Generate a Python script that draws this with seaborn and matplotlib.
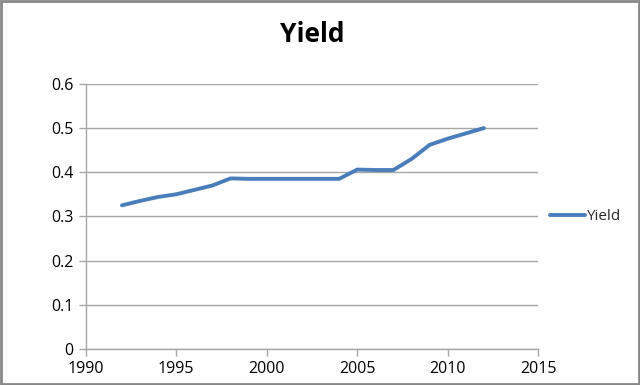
import matplotlib
matplotlib.use("Agg")
import matplotlib.pyplot as plt
import seaborn as sns
import pandas as pd
from matplotlib.patches import Rectangle

# Data
years = [1992, 1993, 1994, 1995, 1996, 1997, 1998, 1999, 2000, 2001,
         2002, 2003, 2004, 2005, 2006, 2007, 2008, 2009, 2010, 2011, 2012]
yield_vals = [0.325, 0.335, 0.344, 0.350, 0.360, 0.370, 0.386, 0.385, 0.385, 0.385,
              0.385, 0.385, 0.385, 0.406, 0.405, 0.405, 0.430, 0.462, 0.476, 0.488, 0.500]
x_ticks = [1990, 1995, 2000, 2005, 2010, 2015]
y_ticks = [0, 0.1, 0.2, 0.3, 0.4, 0.5, 0.6]

df = pd.DataFrame({"Year": years, "Yield": yield_vals})

sns.set_style("white")
plt.rcParams['font.family'] = ['Open Sans', 'DejaVu Sans']

fig = plt.figure(figsize=(6.4, 3.85), dpi=100)
ax = fig.add_axes([0.134, 0.094, 0.707, 0.688])

sns.lineplot(data=df, x="Year", y="Yield", ax=ax, color="#4A7EBB",
             linewidth=2.8, label="Yield")

ax.set_xlim(1990, 2015)
ax.set_ylim(0, 0.6)
ax.set_xticks(x_ticks)
ax.set_yticks(y_ticks)
ax.set_yticklabels(["0", "0.1", "0.2", "0.3", "0.4", "0.5", "0.6"])
ax.set_xlabel("")
ax.set_ylabel("")
ax.grid(axis="y", color="#A6A6A6", linewidth=1)
ax.set_axisbelow(True)
for s in ["top", "right"]:
    ax.spines[s].set_visible(False)
for s in ["left", "bottom"]:
    ax.spines[s].set_color("#A6A6A6")
    ax.spines[s].set_linewidth(1)
ax.tick_params(axis="both", direction="out", length=5, width=1, color="#A6A6A6",
               labelsize=11.5, labelcolor="black", bottom=True, left=True, pad=4)
ax.set_title("Yield", fontsize=19, fontweight="bold", color="black", pad=30)

ax.legend(loc="center left", bbox_to_anchor=(0.995, 0.5), frameon=False,
          fontsize=11, handlelength=2.3, handletextpad=0.1)

fig.patches.append(Rectangle((0.002, 0.003), 0.996, 0.994, transform=fig.transFigure,
                             fill=False, edgecolor="#878787", linewidth=2))

fig.savefig("out.png", dpi=100)
